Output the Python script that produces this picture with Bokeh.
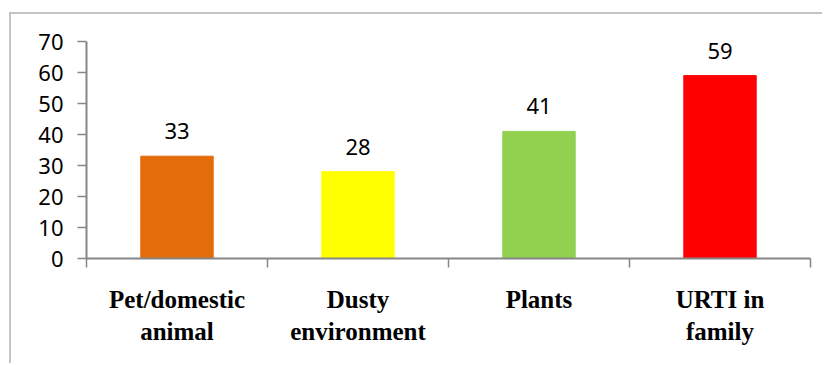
from bokeh.plotting import figure
from bokeh.models import ColumnDataSource, FixedTicker, Range1d
from bokeh.core.properties import value
from bokeh.embed import file_html
from bokeh.resources import INLINE

categories = ["Pet/domestic\nanimal", "Dusty\nenvironment", "Plants", "URTI in\nfamily"]
values = [33, 28, 41, 59]
colors = ["#E46C0A", "#FFFF00", "#92D050", "#FF0000"]
y_ticks = [0, 10, 20, 30, 40, 50, 60, 70]

xs = [i + 0.5 for i in range(len(categories))]
src = ColumnDataSource(dict(x=xs, top=values, color=colors,
                            label=[str(v) for v in values]))

p = figure(width=813, height=351, output_backend="svg", toolbar_location=None,
           x_range=Range1d(0, len(categories)), y_range=Range1d(0, 70),
           min_border_left=75, min_border_top=27, min_border_right=14,
           min_border_bottom=107)
p.styles = {"margin-left": "9px", "margin-top": "12px",
            "border-left": "2px solid #c4c4c4", "border-top": "2px solid #c4c4c4"}
p.outline_line_color = None
p.grid.visible = False

p.vbar(x="x", top="top", width=0.4, bottom=0, color="color", source=src)
p.text(x="x", y="top", text="label", source=src, text_align="center",
       text_baseline="alphabetic", y_offset=-25,
       text_font=value("Noto Sans"), text_font_size="22px", text_color="#000000")

# y axis
yax = p.yaxis[0]
yax.ticker = FixedTicker(ticks=y_ticks)
yax.axis_line_color = "#868686"
yax.axis_line_width = 2
yax.major_tick_line_color = "#868686"
yax.major_tick_line_width = 1.5
yax.major_tick_out = 9
yax.major_tick_in = 0
yax.minor_tick_line_color = None
yax.major_label_standoff = 14
yax.major_label_text_font = "Noto Sans"
yax.major_label_text_font_size = "22px"
yax.major_label_text_color = "#000000"

# x axis
xax = p.xaxis[0]
xax.ticker = FixedTicker(ticks=xs, minor_ticks=list(range(len(categories) + 1)))
xax.major_label_overrides = {x: c for x, c in zip(xs, categories)}
xax.axis_line_color = "#868686"
xax.axis_line_width = 2
xax.major_tick_line_color = None
xax.major_tick_out = 0
xax.major_tick_in = 0
xax.minor_tick_line_color = "#868686"
xax.minor_tick_line_width = 1.5
xax.minor_tick_out = 9
xax.minor_tick_in = 0
xax.major_label_standoff = 18
xax.major_label_text_font = "Liberation Serif"
xax.major_label_text_font_style = "bold"
xax.major_label_text_font_size = "25px"
xax.major_label_text_color = "#000000"
xax.major_label_text_line_height = 1.2

open("out.html", "w").write(file_html(p, INLINE))
